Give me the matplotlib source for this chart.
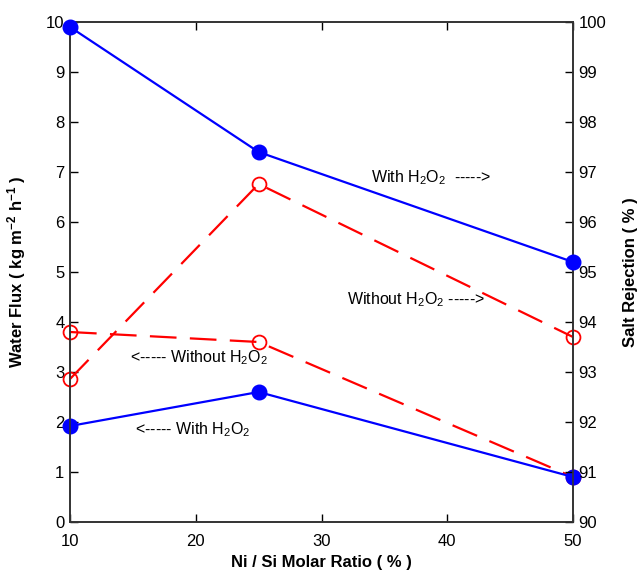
import matplotlib.pyplot as plt

plt.rcParams['font.family'] = ['Liberation Sans', 'DejaVu Sans']
plt.rcParams['mathtext.fontset'] = 'custom'
plt.rcParams['mathtext.rm'] = 'Liberation Sans'
plt.rcParams['mathtext.it'] = 'Liberation Sans:italic'
plt.rcParams['mathtext.bf'] = 'Liberation Sans:bold'

ratio = [10, 25, 50]

# left axis: water flux
flux_with = [1.92, 2.6, 0.9]
flux_without = [3.8, 3.6, 0.9]

# right axis: salt rejection
rej_with = [99.9, 97.4, 95.2]
rej_without = [92.86, 96.76, 93.7]

fig = plt.figure(figsize=(6.41, 5.71), dpi=100)
ax = fig.add_axes([70/641, 49/571, 503/641, 500/571])
ax2 = ax.twinx()

ax.plot(ratio, flux_without, color='red', lw=1.6, dashes=(12, 6),
        marker='o', ms=10, mfc='none', mec='red', mew=1.3, zorder=2, clip_on=False)
ax.plot(ratio, flux_with, color='blue', lw=1.6, marker='o', ms=10.5,
        mfc='blue', mec='blue', zorder=3, clip_on=False)

ax2.plot(ratio, rej_without, color='red', lw=1.6, dashes=(12, 6),
         marker='o', ms=10, mfc='none', mec='red', mew=1.3, zorder=2, clip_on=False)
ax2.plot(ratio, rej_with, color='blue', lw=1.6, marker='o', ms=10.5,
         mfc='blue', mec='blue', zorder=3, clip_on=False)

ax.set_xlim(10, 50)
ax.set_ylim(0, 10)
ax2.set_ylim(90, 100)
ax.set_xticks([10, 20, 30, 40, 50])
ax.set_yticks(range(0, 11))
ax2.set_yticks(range(90, 101))

ax.tick_params(direction='in', length=6, width=1, labelsize=12, top=True)
ax.tick_params(axis='x', pad=9)
ax.tick_params(axis='y', pad=4)
ax2.tick_params(direction='in', length=6, width=1, labelsize=12, pad=4)
for a in (ax, ax2):
    for s in a.spines.values():
        s.set_linewidth(1.2)
        s.set_color('#333333')

ax.set_xlabel('Ni / Si Molar Ratio ( % )', fontsize=12, fontweight='bold', labelpad=4)
ax.set_ylabel('Water Flux ( kg m$^{\\mathbf{-2}}$ h$^{\\mathbf{-1}}$ )', fontsize=12,
              fontweight='bold', labelpad=13)
ax2.set_ylabel('Salt Rejection ( % )', fontsize=12, fontweight='bold', labelpad=12)

ax.text(33.9, 6.88, 'With H$_2$O$_2$  ----->', fontsize=11.5, va='center')
ax.text(32.0, 4.44, 'Without H$_2$O$_2$ ----->', fontsize=11.5, va='center')
ax.text(14.8, 3.28, '<----- Without H$_2$O$_2$', fontsize=11.5, va='center')
ax.text(15.2, 1.84, '<----- With H$_2$O$_2$', fontsize=11.5, va='center')

fig.savefig('out.png', dpi=100)
